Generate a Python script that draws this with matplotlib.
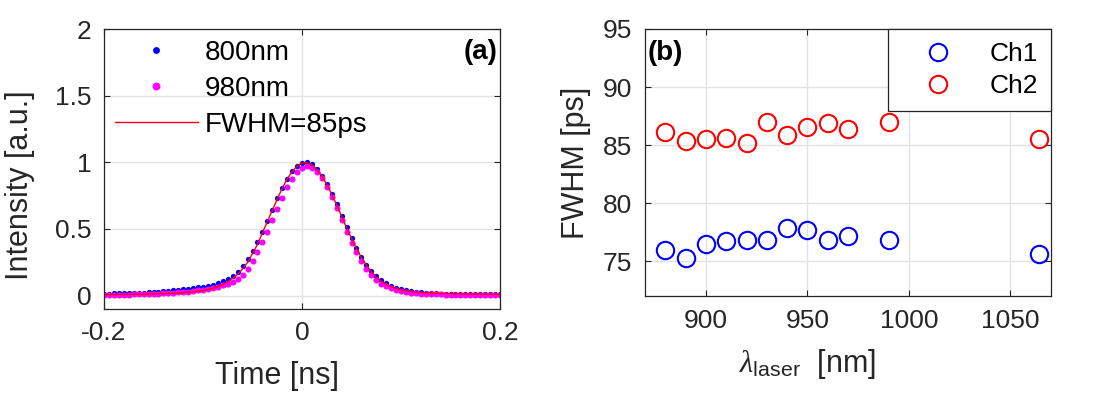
import numpy as np
import matplotlib
matplotlib.use("Agg")
import matplotlib.pyplot as plt
from matplotlib.ticker import FuncFormatter

#____________________________________________________________________________________________________
# data

# (a) pulse shape, sampled every 5 ps from -0.2 to 0.2 ns
t_start, t_step = -0.2, 0.005

i_800 = [0.015, 0.016, 0.017, 0.017, 0.018, 0.019, 0.020, 0.021, 0.023, 0.025,
         0.027, 0.030, 0.033, 0.037, 0.040, 0.044, 0.048, 0.053, 0.058, 0.063,
         0.068, 0.075, 0.083, 0.095, 0.110, 0.125, 0.148, 0.180, 0.225, 0.275,
         0.335, 0.400, 0.475, 0.560, 0.645, 0.730, 0.810, 0.878, 0.935, 0.975,
         0.995, 1.000, 0.985, 0.952, 0.900, 0.838, 0.765, 0.685, 0.600, 0.515,
         0.435, 0.360, 0.292, 0.233, 0.185, 0.145, 0.115, 0.092, 0.073, 0.058,
         0.048, 0.040, 0.033, 0.028, 0.024, 0.021, 0.019, 0.017, 0.016, 0.015,
         0.014, 0.013, 0.012, 0.012, 0.011, 0.011, 0.010, 0.010, 0.010, 0.010,
         0.010]

i_980 = [0.006, 0.006, 0.007, 0.007, 0.008, 0.008, 0.009, 0.010, 0.011, 0.012,
         0.013, 0.015, 0.017, 0.019, 0.021, 0.024, 0.027, 0.030, 0.034, 0.039,
         0.044, 0.050, 0.057, 0.066, 0.077, 0.090, 0.105, 0.125, 0.158, 0.200,
         0.258, 0.325, 0.400, 0.480, 0.565, 0.650, 0.735, 0.812, 0.875, 0.925,
         0.958, 0.970, 0.960, 0.930, 0.880, 0.815, 0.740, 0.655, 0.565, 0.478,
         0.398, 0.325, 0.258, 0.200, 0.153, 0.117, 0.090, 0.070, 0.054, 0.042,
         0.033, 0.027, 0.022, 0.018, 0.015, 0.013, 0.011, 0.010, 0.009, 0.008,
         0.008, 0.007, 0.007, 0.007, 0.007, 0.007, 0.007, 0.007, 0.007, 0.007,
         0.007]

i_fit = [0.008, 0.008, 0.008, 0.009, 0.009, 0.009, 0.010, 0.010, 0.011, 0.012,
         0.013, 0.014, 0.015, 0.017, 0.018, 0.020, 0.022, 0.026, 0.029, 0.033,
         0.038, 0.046, 0.055, 0.068, 0.084, 0.105, 0.130, 0.160, 0.200, 0.250,
         0.315, 0.385, 0.470, 0.555, 0.640, 0.725, 0.805, 0.875, 0.930, 0.972,
         0.995, 0.998, 0.982, 0.948, 0.898, 0.835, 0.760, 0.680, 0.595, 0.510,
         0.430, 0.355, 0.287, 0.228, 0.180, 0.140, 0.108, 0.085, 0.067, 0.053,
         0.043, 0.036, 0.030, 0.026, 0.023, 0.021, 0.019, 0.018, 0.017, 0.016,
         0.015, 0.014, 0.014, 0.013, 0.013, 0.012, 0.012, 0.012, 0.011, 0.011,
         0.011]

# (b) FWHM vs laser wavelength
wavelength = [880, 890, 900, 910, 920, 930, 940, 950, 960, 970, 990, 1064]
fwhm_ch1 = [75.95, 75.3, 76.5, 76.75, 76.85, 76.8, 77.85, 77.65, 76.8, 77.2, 76.8, 75.6]
fwhm_ch2 = [86.15, 85.35, 85.55, 85.65, 85.2, 86.95, 85.85, 86.55, 86.9, 86.35, 86.95, 85.55]

#____________________________________________________________________________________________________
# style
plt.rcParams['font.family'] = ['Liberation Sans', 'DejaVu Sans']
plt.rcParams['mathtext.fontset'] = 'custom'
plt.rcParams['mathtext.rm'] = 'Liberation Sans'
plt.rcParams['mathtext.it'] = 'Liberation Serif:italic'
plt.rcParams['axes.unicode_minus'] = False

dark = '#262626'
grid_col = '#e3e3e3'


def matlab_axes(ax, fs):
    ax.tick_params(direction='in', top=True, right=True, length=4, width=0.8,
                   labelsize=fs, colors=dark, pad=9)
    for s in ax.spines.values():
        s.set_color(dark)
        s.set_linewidth(0.9)
    ax.grid(True, color=grid_col, linewidth=1.0)
    ax.set_axisbelow(True)
    ax.yaxis.set_major_formatter(FuncFormatter(lambda v, p: '%g' % v))
    ax.xaxis.set_major_formatter(FuncFormatter(lambda v, p: '%g' % v))


fig = plt.figure(figsize=(11.03, 3.94), dpi=100)

#____________________________________________________________________________________________________
# (a)
ax1 = fig.add_axes([104 / 1103, 85 / 394, 396 / 1103, 280 / 394])
time = np.round(t_start + t_step * np.arange(len(i_800)), 3)
ax1.plot(time, i_800, 'o', color='#0000ff', ms=3.8, mew=0, label='800nm')
ax1.plot(time, i_980, 'o', color='#ff00ff', ms=4.4, mew=0, label='980nm')
ax1.plot(time, i_fit, '-', color='#ff0000', lw=1.0, label='FWHM=85ps')
ax1.set_xlim(-0.2, 0.2)
ax1.set_ylim(-0.1, 2)
ax1.set_xticks([-0.2, 0, 0.2])
ax1.set_yticks([0, 0.5, 1, 1.5, 2])
matlab_axes(ax1, 19)
ax1.set_xlabel('Time [ns]', fontsize=22, color=dark)
ax1.set_ylabel('Intensity [a.u.]', fontsize=22, color=dark)
ax1.xaxis.set_label_coords(0.438, -0.185)
ax1.yaxis.set_label_coords(-0.175, 0.443)
ax1.legend(loc='upper left', bbox_to_anchor=(0.0, 1.0), frameon=False,
           fontsize=20, handlelength=3.0, handletextpad=0.24, labelspacing=0.37,
           borderpad=0.38, borderaxespad=0.0, numpoints=1, markerscale=1.3)
ax1.text(0.993, 0.918, '(a)', transform=ax1.transAxes, ha='right', va='center',
         fontsize=20, fontweight='bold', color='black')

#____________________________________________________________________________________________________
# (b)
ax2 = fig.add_axes([645 / 1103, 98 / 394, 406 / 1103, 267 / 394])
ax2.plot(wavelength, fwhm_ch1, 'o', mfc='none', mec='#0000ff', ms=12.5, mew=1.5, label='Ch1')
ax2.plot(wavelength, fwhm_ch2, 'o', mfc='none', mec='#ff0000', ms=12.5, mew=1.5, label='Ch2')
ax2.set_xlim(870, 1070)
ax2.set_ylim(72, 95)
ax2.set_xticks([900, 950, 1000, 1050])
ax2.set_yticks([75, 80, 85, 90, 95])
matlab_axes(ax2, 19)
ax2.set_xlabel(r'$\mathit{\lambda}_{\mathrm{laser}}$  [nm]', fontsize=22, color=dark)
ax2.set_ylabel('FWHM [ps]', fontsize=22, color=dark)
ax2.xaxis.set_label_coords(0.40, -0.19)
ax2.yaxis.set_label_coords(-0.133, 0.5)
leg = ax2.legend(loc='upper right', bbox_to_anchor=(1.0, 1.0), fontsize=19,
                 handlelength=2.8, handletextpad=0.55, labelspacing=0.3,
                 borderpad=0.5, borderaxespad=0.0, numpoints=1, fancybox=False,
                 framealpha=1.0, edgecolor=dark)
leg.get_frame().set_linewidth(0.9)
ax2.text(0.007, 0.91, '(b)', transform=ax2.transAxes, ha='left', va='center',
         fontsize=20, fontweight='bold', color='black')

fig.savefig('out.png', dpi=100)
